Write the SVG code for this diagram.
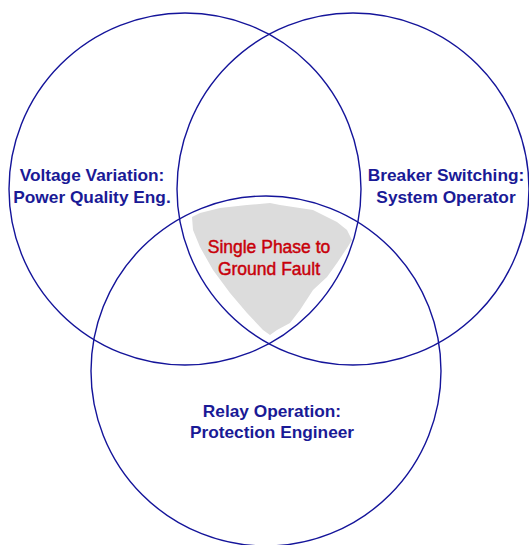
<svg xmlns="http://www.w3.org/2000/svg" width="529" height="545" viewBox="0 0 529 545">
  <style>
    .ring { fill: none; stroke: #14149a; stroke-width: 1.4; }
    .lbl { font-family: "Liberation Sans", Arial, sans-serif; font-size: 17.3px; font-weight: bold; fill: #1a1a96; text-anchor: middle; }
    .core { font-family: "Liberation Sans", Arial, sans-serif; font-size: 17.5px; fill: #c8000a; stroke: #c8000a; stroke-width: 0.45; text-anchor: middle; }
  </style>
  <rect width="529" height="545" fill="#ffffff"/>

  <!-- shared region of all three sets -->
  <g id="fault">
    <polygon fill="#dcdcdc" points="192,217 200,213 220,208 247,205 270,203 280,205 313,210 337,222 347,230 352,240 347,248 337,263 327,277 313,290 300,310 290,323 277,330 270,335 263,330 247,313 230,293 213,270 200,247 193,230"/>
    <text class="core" x="269" y="253">Single Phase to</text>
    <text class="core" x="269" y="275">Ground Fault</text>
  </g>

  <g id="voltage">
    <circle class="ring" cx="185" cy="189" r="176"/>
    <text class="lbl" x="92" y="181">Voltage Variation:</text>
    <text class="lbl" x="92" y="203">Power Quality Eng.</text>
  </g>

  <g id="breaker">
    <circle class="ring" cx="353" cy="189" r="176"/>
    <text class="lbl" x="446" y="181">Breaker Switching:</text>
    <text class="lbl" x="446" y="203">System Operator</text>
  </g>

  <g id="relay">
    <circle class="ring" cx="266" cy="371" r="175"/>
    <text class="lbl" x="272" y="417">Relay Operation:</text>
    <text class="lbl" x="272" y="438">Protection Engineer</text>
  </g>
</svg>
